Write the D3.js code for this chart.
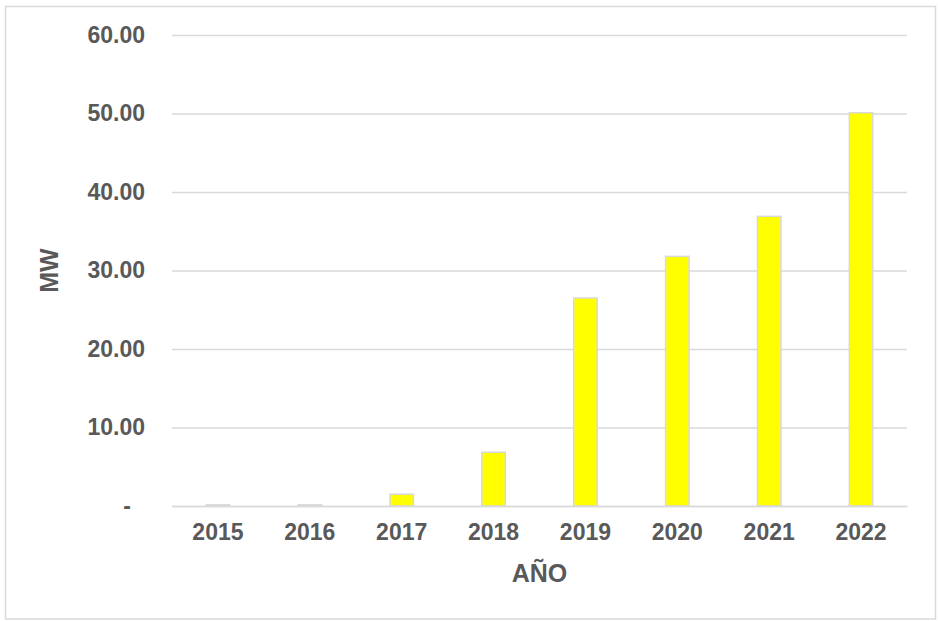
<!DOCTYPE html>
<html>
<head>
<meta charset="utf-8">
<script src="https://cdn.jsdelivr.net/npm/d3@7"></script>
<style>
  html, body { margin: 0; padding: 0; background: #ffffff; }
  svg { display: block; }
</style>
</head>
<body>
<svg id="chart" width="938" height="621"></svg>
<script>
const years = ["2015", "2016", "2017", "2018", "2019", "2020", "2021", "2022"];
const mw = [0.15, 0.15, 1.5, 6.85, 26.5, 31.8, 36.9, 50.1];
const yTicks = [0, 10, 20, 30, 40, 50, 60];
const xTitle = "AÑO";
const yTitle = "MW";

(function () {
const svg = d3.select("#chart");
const pLeft = 172, pRight = 907, pTop = 35, pBottom = 506;
const textColor = "#595959";
const gridColor = "#d9d9d9";
const font = "'Liberation Sans', Arial, sans-serif";

// chart border
svg.append("rect")
  .attr("x", 5.5).attr("y", 6.5)
  .attr("width", 930).attr("height", 612.5)
  .attr("fill", "#ffffff")
  .attr("stroke", gridColor).attr("stroke-width", 1.5);

const x = d3.scaleBand().domain(years).range([pLeft, pRight]).paddingInner(0.744).paddingOuter(0.372);
const y = d3.scaleLinear().domain([0, 60]).range([pBottom, pTop]);

// gridlines + y labels
const yAxis = d3.axisLeft(y).tickValues(yTicks)
  .tickSize(-(pRight - pLeft))
  .tickPadding(27)
  .tickFormat(d => d === 0 ? "-" : d3.format(".2f")(d));

const gy = svg.append("g").attr("transform", `translate(${pLeft},0)`).call(yAxis);
gy.select(".domain").remove();
gy.selectAll(".tick line").attr("stroke", gridColor).attr("stroke-width", 1.5);
gy.selectAll(".tick text")
  .attr("fill", textColor)
  .style("font-family", font)
  .style("font-weight", "bold")
  .style("font-size", "23px");
gy.selectAll(".tick").filter(d => d === 0).select("text").attr("dx", -14);

// bars
svg.append("g").selectAll("rect").data(years).join("rect")
  .attr("x", d => x(d))
  .attr("width", x.bandwidth())
  .attr("y", (d, i) => y(mw[i]))
  .attr("height", (d, i) => y(0) - y(mw[i]))
  .attr("fill", "#ffff00")
  .attr("stroke", gridColor)
  .attr("stroke-width", 1.5);

// x axis
const xAxis = d3.axisBottom(x).tickSize(0).tickPadding(18);
const gx = svg.append("g").attr("transform", `translate(0,${pBottom})`).call(xAxis);
gx.select(".domain").attr("stroke", gridColor).attr("stroke-width", 1.5);
gx.selectAll(".tick text")
  .attr("fill", textColor)
  .style("font-family", font)
  .style("font-weight", "bold")
  .style("font-size", "23px");

// axis titles
svg.append("text")
  .attr("x", (pLeft + pRight) / 2).attr("y", 582)
  .attr("text-anchor", "middle")
  .attr("fill", textColor)
  .style("font-family", font)
  .style("font-weight", "bold")
  .style("font-size", "25px")
  .text(xTitle);

svg.append("text")
  .attr("transform", `translate(58,${(pTop + pBottom) / 2}) rotate(-90)`)
  .attr("text-anchor", "middle")
  .attr("fill", textColor)
  .style("font-family", font)
  .style("font-weight", "bold")
  .style("font-size", "25px")
  .text(yTitle);
})();
</script>
</body>
</html>
